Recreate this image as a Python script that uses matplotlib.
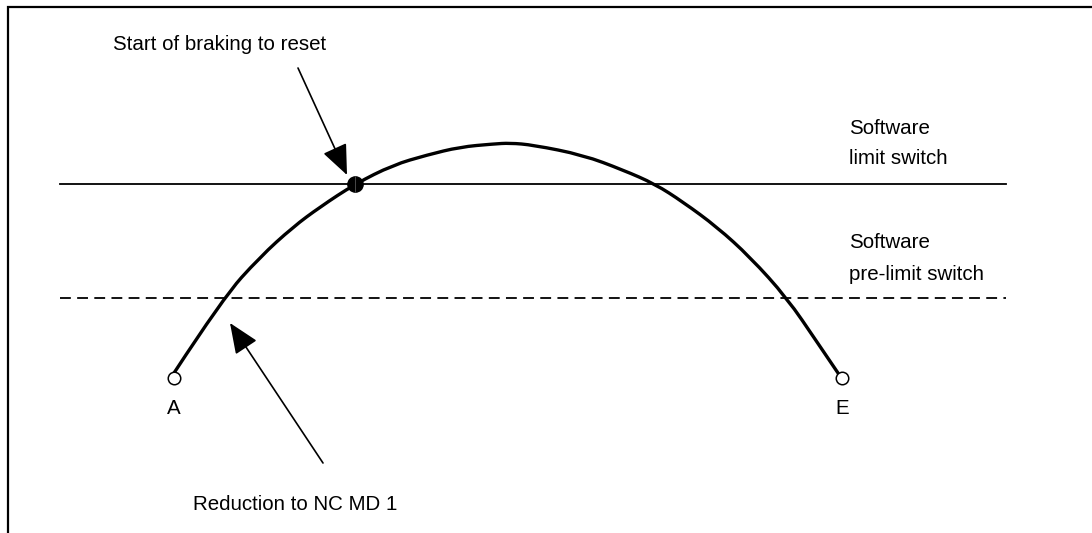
import matplotlib.pyplot as plt
from matplotlib.path import Path
from matplotlib.patches import PathPatch

plt.rcParams['font.family'] = ['Liberation Sans', 'DejaVu Sans']

# motion path (pixel positions), A -> E
path_x = [174, 223, 260, 293, 320, 355, 393, 427, 460, 493, 510,
          533, 583, 623, 655, 683, 717, 750, 787, 817, 838]
path_y = [373, 298, 257, 227, 207, 184, 165, 155, 147, 144, 143,
          145, 155, 170, 184, 202, 227, 257, 298, 342, 373]

limit_y = 184
prelimit_y = 298
line_x = [60, 1006]

brake_point = (355, 184)
start_pt = (174, 378)
end_pt = (842, 378)

fig = plt.figure(figsize=(10.92, 5.33), dpi=100)
ax = fig.add_axes([0, 0, 1, 1])
ax.set_xlim(0, 1092)
ax.set_ylim(533, 0)
ax.axis('off')

# frame (top and left edges only)
ax.plot([8, 8, 1092], [533, 7, 7], color='black', lw=1.6, solid_joinstyle='miter')

# limit switch lines
ax.plot(line_x, [limit_y, limit_y], color='black', lw=1.3)
ax.plot(line_x, [prelimit_y, prelimit_y], color='black', lw=1.3, dashes=(6, 3.5))

# path: smooth quadratic curve using the read points as control points
pts = list(zip(path_x, path_y))
verts = [pts[0]]
codes = [Path.MOVETO]
for i in range(1, len(pts) - 1):
    mid = ((pts[i][0] + pts[i + 1][0]) / 2, (pts[i][1] + pts[i + 1][1]) / 2)
    if i == len(pts) - 2:
        mid = pts[-1]
    verts += [pts[i], mid]
    codes += [Path.CURVE3, Path.CURVE3]
ax.add_patch(PathPatch(Path(verts, codes), fill=False, lw=2.4, ec='black',
                       capstyle='round', joinstyle='round'))

ax.plot(*brake_point, 'o', ms=11, color='black')
ax.plot([brake_point[0]], [brake_point[1]], marker='|', ms=11, color='#555555', mew=0.6)
for p in (start_pt, end_pt):
    ax.plot(*p, 'o', ms=9, mfc='white', mec='black', mew=1.1, zorder=5)

# arrows
aprops = dict(arrowstyle='-|>,head_length=0.9,head_width=0.38', mutation_scale=21,
              lw=1.2, color='black', shrinkA=0, shrinkB=0)
ax.annotate('', xy=(347, 175), xytext=(298, 68), arrowprops=aprops)
ax.annotate('', xy=(230, 323), xytext=(323, 463), arrowprops=aprops)

fs = 14.8
ax.text(113, 45, 'Start of braking to reset', fontsize=fs, va='center', ha='left')
ax.text(193, 505, 'Reduction to NC MD 1', fontsize=fs, va='center', ha='left')
ax.text(849, 128, 'Software', fontsize=fs, va='center', ha='left')
ax.text(849, 159, 'limit switch', fontsize=fs, va='center', ha='left')
ax.text(849, 242, 'Software', fontsize=fs, va='center', ha='left')
ax.text(849, 274, 'pre-limit switch', fontsize=fs, va='center', ha='left')
ax.text(start_pt[0], 409, 'A', fontsize=fs, va='center', ha='center')
ax.text(end_pt[0], 409, 'E', fontsize=fs, va='center', ha='center')

fig.savefig('out.png', dpi=100)
